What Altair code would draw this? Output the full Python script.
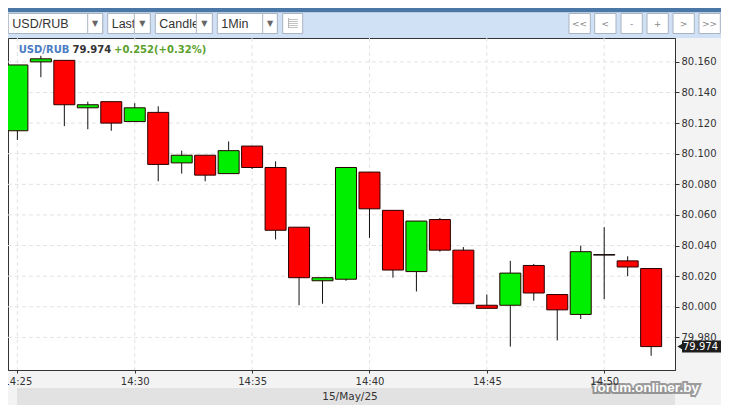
import altair as alt
import pandas as pd

# ---------------- data ----------------
times = ["14:25", "14:26", "14:27", "14:28", "14:29", "14:30", "14:31", "14:32",
         "14:33", "14:34", "14:35", "14:36", "14:37", "14:38", "14:39", "14:40",
         "14:41", "14:42", "14:43", "14:44", "14:45", "14:46", "14:47", "14:48",
         "14:49", "14:50", "14:51", "14:52"]
opens = [80.115, 80.160, 80.161, 80.130, 80.134, 80.121, 80.127, 80.094,
         80.099, 80.087, 80.105, 80.091, 80.052, 80.017, 80.018, 80.088,
         80.063, 80.023, 80.057, 80.037, 80.001, 80.001, 80.027, 80.008,
         79.995, 80.034, 80.030, 80.025]
highs = [80.158, 80.164, 80.161, 80.134, 80.134, 80.133, 80.131, 80.102,
         80.099, 80.108, 80.105, 80.095, 80.052, 80.019, 80.091, 80.088,
         80.063, 80.056, 80.058, 80.039, 80.008, 80.030, 80.028, 80.008,
         80.040, 80.052, 80.033, 80.025]
lows = [80.109, 80.150, 80.118, 80.116, 80.115, 80.121, 80.082, 80.087,
        80.082, 80.087, 80.090, 80.044, 80.001, 80.002, 80.017, 80.045,
        80.019, 80.010, 80.036, 80.002, 79.999, 79.974, 80.004, 79.978,
        79.992, 80.005, 80.020, 79.968]
closes = [80.158, 80.162, 80.132, 80.132, 80.120, 80.130, 80.093, 80.099,
          80.086, 80.102, 80.091, 80.050, 80.019, 80.019, 80.091, 80.064,
          80.024, 80.056, 80.037, 80.002, 79.999, 80.022, 80.009, 79.998,
          80.036, 80.034, 80.026, 79.974]
x_ticks = ["14:25", "14:30", "14:35", "14:40", "14:45", "14:50"]
y_ticks = [79.98, 80.00, 80.02, 80.04, 80.06, 80.08, 80.10, 80.12, 80.14, 80.16]
date_day = "2025-05-15"
symbol = "USD/RUB"
last_text = "79.974"
change_text = "+0.252(+0.32%)"
date_label = "15/May/25"
watermark = "forum.onliner.by"
toolbar_left = ["USD/RUB", "Last", "Candle", "1Min"]
toolbar_right = ["<<", "<", "-", "+", ">", ">>"]

# ---------------- layout ----------------
W, H = 667, 332
PT, PB, PL, PR = 30, 35, 0, 46
FONT = "DejaVu Sans"

df = pd.DataFrame({"time": times, "open": opens, "high": highs,
                   "low": lows, "close": closes})
df["t"] = date_day + "T" + df["time"] + ":00"
df["dir"] = ["up" if c >= o else "down" for o, c in zip(opens, closes)]

def dt(hm, sec=0):
    h, m = hm.split(":")
    return alt.DateTime(year=2025, month=5, date=15, hours=int(h), minutes=int(m), seconds=sec)

xs = alt.Scale(domain=[alt.DateTime(year=2025, month=5, date=15, hours=14, minutes=24, seconds=36),
                       alt.DateTime(year=2025, month=5, date=15, hours=14, minutes=53, seconds=1)],
               nice=False, padding=0)
ys = alt.Scale(domain=[79.9587, 80.1756], nice=False, zero=False, padding=0)

xaxis = alt.Axis(values=[dt(t) for t in x_ticks], format="%H:%M", title=None, grid=False,
                 labelFont=FONT, labelFontSize=10, labelColor="#333", domainColor="#333",
                 tickColor="#333", tickSize=3, labelPadding=3, zindex=1, labelFlush=False,
                 labelOverlap=False)
yaxis = alt.Axis(values=y_ticks, format=".3f", title=None, grid=False, orient="right",
                 labelFont=FONT, labelFontSize=10, labelColor="#333", domainColor="#333",
                 tickColor="#333", tickSize=4, labelPadding=2, zindex=1)

one = pd.DataFrame({"a": [0]})

def box(x1, x2, y1, y2, fill, stroke=None, sw=1):
    kw = dict(fill=fill)
    if stroke:
        kw.update(stroke=stroke, strokeWidth=sw)
    return alt.Chart(one).mark_rect(**kw).encode(
        x=alt.value(x1), x2=alt.value(x2), y=alt.value(y1), y2=alt.value(y2))

def label(x, y, text, size=10, color="#333", weight="normal", align="left", font=FONT, **kw):
    return alt.Chart(one).mark_text(text=text, fontSize=size, color=color, fontWeight=weight,
                                    align=align, baseline="middle", font=font, **kw).encode(
        x=alt.value(x), y=alt.value(y))

layers = []

# background bands (toolbar, axis row, date bar)
layers.append(box(-2, W + PR + 2, -PT, -25.5, "#4b77a7"))
layers.append(box(-2, W + PR + 2, -25.5, 0, "#d0e1f6"))
layers.append(box(9, W, H + 18, H + 35, "#e2e2e2"))

# toolbar dropdowns
dd = [(0.3, 79.7, 94.7), (99.7, 126.3, 142.3), (147.3, 188.3, 204.3), (209.3, 254.7, 269.3)]
for name, (x1, xd, x2) in zip(toolbar_left, dd):
    layers.append(box(x1, x2, -24.5, -4.5, "#ffffff", "#a9b4c2"))
    layers.append(label(x1 + 4, -14.5, name, size=12.5, color="#333", font="Liberation Sans"))
    layers.append(box(xd, x2, -24.5, -4.5, "#ffffff", "#a9b4c2"))
    layers.append(label((xd + x2) / 2, -14, "▼", size=8, color="#666", align="center"))
# list icon button
layers.append(box(274.7, 294.7, -24.5, -4.5, "#ffffff", "#a9b4c2"))
for k in range(5):
    layers.append(box(281, 290, -19 + 2 * k, -18.5 + 2 * k, "#888888"))
layers.append(box(280, 280.6, -20, -10, "#888888"))

# right navigation buttons
rb = [561, 586.7, 613, 639, 665, 691]
for name, x1 in zip(toolbar_right, rb):
    layers.append(box(x1, x1 + 21.3, -24.5, -4.5, "#ffffff", "#a9b4c2"))
    layers.append(label(x1 + 10.6, -14.5, name, size=9, color="#888", align="center"))

# grid lines (dashed)
gx = pd.DataFrame({"t": [date_day + "T" + t + ":00" for t in x_ticks]})
layers.append(alt.Chart(gx).mark_rule(color="#e3e3e3", strokeDash=[4, 3]).encode(
    x=alt.X("t:T", scale=xs, axis=xaxis), y=alt.value(0), y2=alt.value(H)))
gy = pd.DataFrame({"low": y_ticks})
layers.append(alt.Chart(gy).mark_rule(color="#e3e3e3", strokeDash=[4, 3]).encode(
    y=alt.Y("low:Q", scale=ys, axis=yaxis), x=alt.value(0), x2=alt.value(W)))

# candles
base = alt.Chart(df)
wicks = base.mark_rule(color="#111", strokeWidth=1).encode(
    x=alt.X("t:T", scale=xs, axis=xaxis),
    y=alt.Y("low:Q", scale=ys, axis=yaxis), y2="high:Q")
bodies = base.mark_bar(size=21, stroke="#2a0000", strokeWidth=1).encode(
    x=alt.X("t:T", scale=xs, axis=xaxis),
    y=alt.Y("open:Q", scale=ys, axis=yaxis), y2="close:Q",
    fill=alt.Fill("dir:N", scale=alt.Scale(domain=["up", "down"], range=["#00ee00", "#ff0000"]),
                  legend=None))
doji = base.transform_filter("datum.open == datum.close").mark_tick(
    orient="horizontal", size=22, thickness=1.5, color="#111").encode(
    x=alt.X("t:T", scale=xs, axis=xaxis), y=alt.Y("open:Q", scale=ys, axis=yaxis))
layers += [wicks, bodies, doji]

# header inside the plot
layers.append(label(10.7, 11.7, symbol, size=10, color="#4a7cc2", weight="bold"))
layers.append(label(64.5, 11.7, last_text, size=10, color="#333", weight="bold"))
layers.append(label(106, 11.7, change_text, size=10, color="#5b9f2c", weight="bold"))

# last price marker on the right axis
last = alt.Chart(df.tail(1))
layers.append(last.mark_rect(fill="#1e1e1e", yOffset=-6, y2Offset=6).encode(
    x=alt.value(W + 7), x2=alt.value(W + PR + 2),
    y=alt.Y("close:Q", scale=ys, axis=yaxis), y2="close:Q"))
layers.append(last.mark_point(shape="triangle-left", filled=True, fill="#1e1e1e",
                              opacity=1, size=70, strokeWidth=0).encode(
    x=alt.value(W + 6), y=alt.Y("close:Q", scale=ys, axis=yaxis)))
layers.append(last.mark_text(align="left", baseline="middle", font=FONT, fontSize=10,
                             color="#ffffff").encode(
    x=alt.value(W + 8), y=alt.Y("close:Q", scale=ys, axis=yaxis),
    text=alt.Text("close:Q", format=".3f")))

# date bar text and watermark
layers.append(label(342, H + 26.5, date_label, size=10.5, color="#333", align="center"))
layers.append(label(638, H + 18, watermark, size=13.5, color="#555", weight="bold", align="center",
                    font="Liberation Sans", stroke="#555", strokeWidth=4, opacity=0.55))
layers.append(label(638, H + 18, watermark, size=13.5, color="#ffffff", weight="bold",
                    align="center", font="Liberation Sans"))

chart = alt.layer(*layers).properties(
    width=W, height=H,
    autosize=alt.AutoSizeParams(type="none"),
    padding={"left": PL, "top": PT, "right": PR, "bottom": PB},
    background="#f3f3f4",
).configure_view(fill="#ffffff", stroke="#333333", strokeWidth=1)

chart.save("out.html", embed_options={"renderer": "svg", "actions": False})
